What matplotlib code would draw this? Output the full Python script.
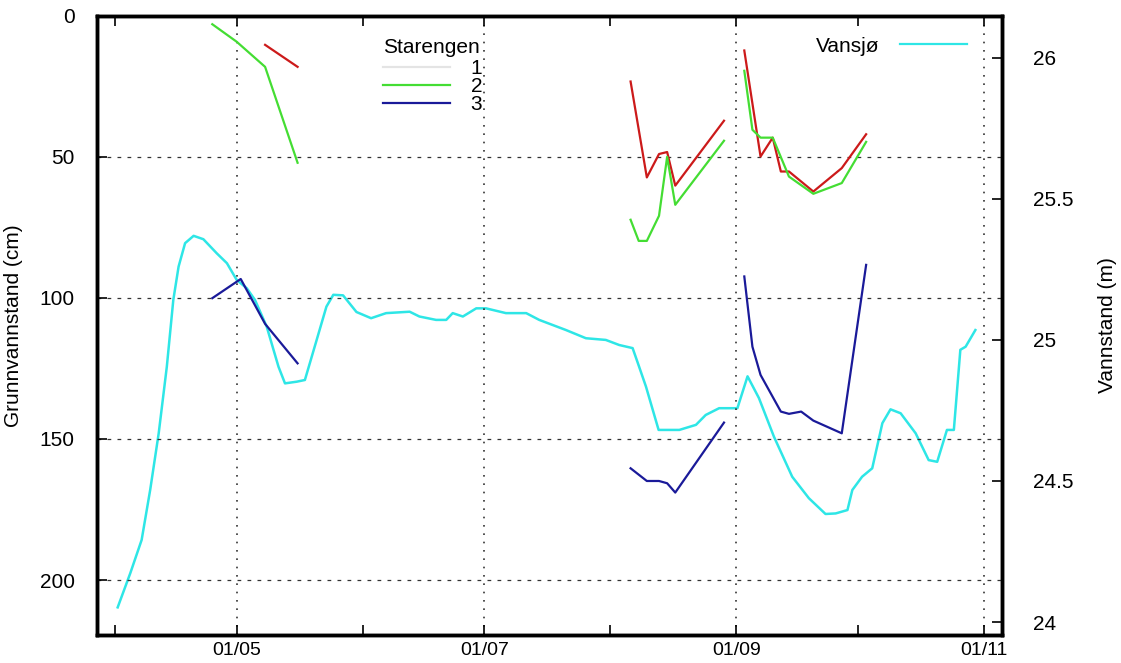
import datetime as dt
import numpy as np
import matplotlib
matplotlib.use("Agg")
import matplotlib.pyplot as plt
import matplotlib.dates as mdates
from matplotlib.lines import Line2D

# days counted from 1 April; NaN splits the measurement campaigns
START = dt.datetime(2003, 4, 1)

st_days = {
    '1': [37, 45, np.nan, 127, 131, 134, 136, 138, 150, np.nan,
          155, 159, 162, 164, 166, 172, 179, 185],
    '2': [24, 30, 37, 45, np.nan, 127, 129, 131, 134, 136, 138, 150, np.nan,
          155, 157, 159, 162, 166, 172, 179, 185],
    '3': [24, 31, 37, 45, np.nan, 127, 131, 134, 136, 138, 150, np.nan,
          155, 157, 159, 164, 166, 169, 172, 179, 185],
}
st_cm = {
    '1': [10.3, 18.1, np.nan, 23.3, 57.3, 49.0, 48.3, 60.2, 37.2, np.nan,
          12.3, 49.9, 43.2, 55.2, 55.2, 62.3, 54.0, 42.0],
    '2': [3.0, 9.2, 18.1, 52.1, np.nan, 72.3, 79.8, 79.8, 70.9, 50.0, 67.0, 44.3, np.nan,
          19.5, 40.4, 43.2, 43.2, 57.0, 63.1, 59.3, 44.7],
    '3': [100.1, 93.3, 109.2, 123.2, np.nan, 160.4, 164.9, 164.9, 165.7, 169.0, 144.2, np.nan,
          92.4, 117.3, 127.3, 140.3, 141.1, 140.3, 143.5, 148.0, 88.3],
}
st_colors = {'1': '#cc1a1a', '2': '#44dd33', '3': '#1a1a99'}

# Vansjø water level (m)
vansjo_days = [0.7, 3.8, 6.6, 8.7, 10.8, 12.8, 14.4, 15.7, 17.3, 19.4, 21.8, 25.1,
               27.6, 30.0, 32.5, 34.5, 37.4, 40.3, 41.9, 44.8, 46.8, 49.7, 52.1,
               53.8, 56.2, 59.5, 63.1, 66.8, 72.6, 75.0, 79.1, 81.6, 83.2, 85.7,
               89.0, 91.4, 96.3, 101.3, 104.5, 111.1, 116.0, 120.9, 124.2, 127.5,
               129.1, 130.8, 133.9, 139.0, 143.1, 145.5, 148.8, 153.3, 155.8,
               158.6, 162.3, 166.8, 170.9, 175.0, 177.5, 180.4, 181.6, 184.0,
               186.5, 189.0, 191.0, 193.5, 197.2, 200.4, 202.5, 204.9, 206.6,
               208.2, 209.5, 211.9]
vansjo_m = [24.052, 24.173, 24.291, 24.468, 24.669, 24.905, 25.142, 25.260, 25.343,
            25.369, 25.357, 25.307, 25.272, 25.213, 25.183, 25.142, 25.047, 24.905,
            24.846, 24.852, 24.858, 25.000, 25.118, 25.160, 25.158, 25.099, 25.077,
            25.095, 25.100, 25.083, 25.071, 25.071, 25.095, 25.083, 25.112, 25.112,
            25.095, 25.095, 25.071, 25.035, 25.006, 25.000, 24.982, 24.971, 24.905,
            24.834, 24.681, 24.681, 24.699, 24.734, 24.758, 24.758, 24.871, 24.794,
            24.657, 24.515, 24.439, 24.383, 24.385, 24.397, 24.468, 24.515, 24.545,
            24.705, 24.754, 24.740, 24.669, 24.574, 24.568, 24.681, 24.681, 24.965,
            24.976, 25.035]


def to_num(days):
    base = mdates.date2num(START)
    return [base + d for d in days]


plt.rcParams["font.family"] = ["Liberation Sans", "DejaVu Sans"]
plt.rcParams.update({"font.size": 15})

fig = plt.figure(figsize=(11.21, 6.63), dpi=100)
ax = fig.add_axes([0.0865, 0.0422, 0.8075, 0.934])
ax2 = ax.twinx()
ax.set_zorder(ax2.get_zorder() + 1)
ax.patch.set_visible(False)

for key in ['1', '2', '3']:
    ax.plot(to_num(st_days[key]), st_cm[key], color=st_colors[key], lw=1.6)

ax2.plot(to_num(vansjo_days), vansjo_m, color='#2ee6e6', lw=1.8)

ax.set_xlim(to_num([-4.4, 218.5]))
ax.set_ylim(219.5, 0)
ax2.set_ylim(23.954, 26.149)

ax.set_yticks([0, 50, 100, 150, 200])
ax2.set_yticks([24, 24.5, 25, 25.5, 26])
ax2.set_yticklabels(['24', '24.5', '25', '25.5', '26'])

ax.xaxis.set_major_locator(mdates.MonthLocator(bymonth=[5, 7, 9, 11]))
ax.xaxis.set_minor_locator(mdates.MonthLocator(bymonth=[4, 6, 8, 10]))
ax.xaxis.set_major_formatter(mdates.DateFormatter('%d/%m'))

ax.tick_params(axis='x', which='both', direction='in', length=7, width=1.2, top=True, pad=5,
               labelsize=14)
ax.tick_params(axis='y', direction='in', length=7, width=1.2, pad=16, labelsize=15)
ax2.tick_params(axis='y', direction='in', length=7, width=1.2, pad=22, labelsize=15)

ax.grid(axis='y', color='#333333', linestyle=(0, (3, 5)), linewidth=0.9)
ax.grid(axis='x', which='major', color='#333333', linestyle=(0, (1, 4)), linewidth=1.2)

for a in (ax, ax2):
    for s in a.spines.values():
        s.set_linewidth(2.5)

ax.set_ylabel('Grunnvannstand (cm)', fontsize=15, labelpad=12)
ax2.set_ylabel('Vannstand (m)', fontsize=15, labelpad=18)

# legends
handles = [Line2D([], [], color='#e4e4e4', lw=1.6),
           Line2D([], [], color=st_colors['2'], lw=1.6),
           Line2D([], [], color=st_colors['3'], lw=1.6)]
leg = ax.legend(handles, ['1', '2', '3'], title='Starengen', loc='upper left',
                bbox_to_anchor=(0.30, 0.987), frameon=False, handlelength=3.2,
                labelspacing=-0.05, borderpad=0.2, title_fontsize=15, fontsize=15,
                handletextpad=1.0, handleheight=0.5)
leg._legend_box.align = "left"
leg._legend_box.sep = 1

ax2.legend([Line2D([], [], color='#2ee6e6', lw=1.6)], ['Vansjø'], loc='upper right',
           bbox_to_anchor=(0.977, 0.99), frameon=False, markerfirst=False,
           handlelength=3.2, fontsize=15, borderpad=0.2, handletextpad=1.0)

fig.savefig('out.png', dpi=100)
